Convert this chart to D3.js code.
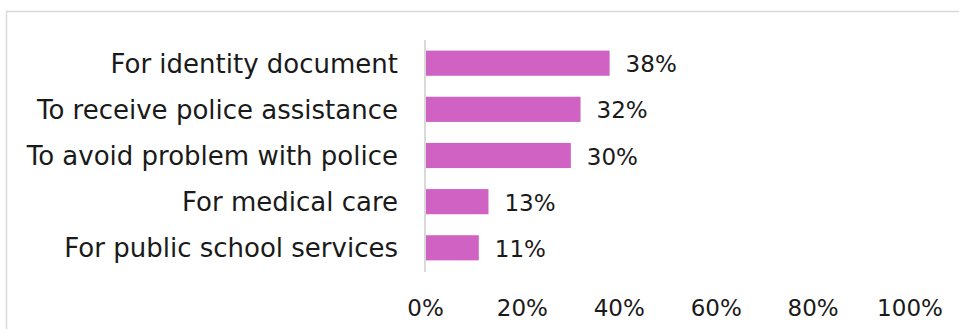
<!DOCTYPE html>
<html>
<head>
<meta charset="utf-8">
<script src="https://cdn.jsdelivr.net/npm/d3@7"></script>
<style>
  body { margin: 0; background: #fff; }
  text { font-family: "DejaVu Sans", sans-serif; fill: #1a1a1a; }
</style>
</head>
<body>
<svg id="chart" width="959" height="329"></svg>
<script>
const categories = [
  "For identity document",
  "To receive police assistance",
  "To avoid problem with police",
  "For medical care",
  "For public school services"
];
const values = [38, 32, 30, 13, 11];
const xTicks = [0, 20, 40, 60, 80, 100];

const svg = d3.select("#chart");
const labelSize = 26;
const numSize = 23;

// outer frame (runs off the right and bottom edges)
svg.append("rect")
  .attr("x", 6.5).attr("y", 11.5)
  .attr("width", 1000).attr("height", 400)
  .attr("fill", "none")
  .attr("stroke", "#d9d9d9")
  .attr("stroke-width", 1.5);

const x = d3.scaleLinear().domain([0, 100]).range([425.5, 910]);
const y = d3.scaleBand().domain(categories).range([40, 271]).paddingInner(0.455).paddingOuter(0.23);

// bars
svg.selectAll(".bar")
  .data(values)
  .enter()
  .append("rect")
  .attr("class", "bar")
  .attr("x", x(0))
  .attr("y", (d, i) => y(categories[i]))
  .attr("width", d => x(d) - x(0))
  .attr("height", y.bandwidth())
  .attr("fill", "#d062c4");

// vertical axis line
svg.append("line")
  .attr("x1", 425).attr("x2", 425)
  .attr("y1", 40).attr("y2", 272)
  .attr("stroke", "#d9d9d9")
  .attr("stroke-width", 2);

// category labels
svg.selectAll(".cat")
  .data(categories)
  .enter()
  .append("text")
  .attr("class", "cat")
  .attr("x", 398)
  .attr("y", d => y(d) + y.bandwidth() / 2 + 9.5)
  .attr("text-anchor", "end")
  .style("font-size", labelSize + "px")
  .text(d => d);

// value labels
svg.selectAll(".val")
  .data(values)
  .enter()
  .append("text")
  .attr("class", "val")
  .attr("x", d => x(d) + 16)
  .attr("y", (d, i) => y(categories[i]) + y.bandwidth() / 2 + 9)
  .style("font-size", numSize + "px")
  .text(d => d + "%");

// x tick labels
svg.selectAll(".tick")
  .data(xTicks)
  .enter()
  .append("text")
  .attr("class", "tick")
  .attr("x", d => x(d))
  .attr("y", 316)
  .attr("text-anchor", "middle")
  .style("font-size", numSize + "px")
  .text(d => d + "%");
</script>
</body>
</html>
